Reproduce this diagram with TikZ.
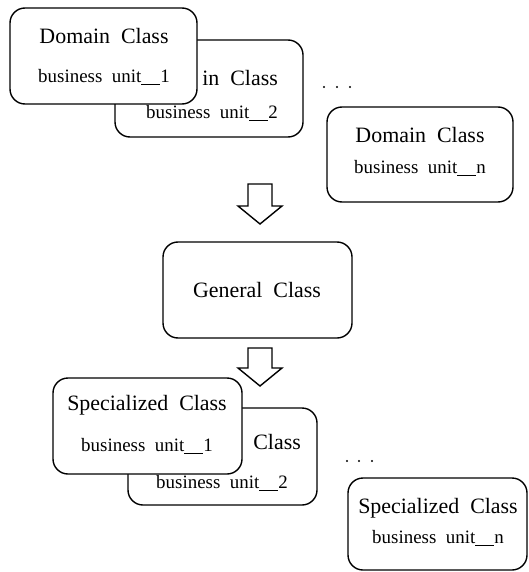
\documentclass[tikz,border=0pt]{standalone}
\usepackage{fontspec}
\setmainfont{Liberation Serif}
\begin{document}
\begin{tikzpicture}[x=1bp,y=-1bp,
  classbox/.style={draw,line width=1.4bp,rounded corners=15bp,fill=white},
  title/.style={font=\fontsize{22}{26}\selectfont,inner sep=0pt},
  unit/.style={font=\fontsize{19}{22}\selectfont,inner sep=0pt},
  blockarrow/.style={draw,line width=1.4bp,fill=white,line join=miter},
  dot/.style={circle,fill,inner sep=0pt,minimum size=2.4bp}]
\useasboundingbox (0,0) rectangle (529,572);
\newcommand{\uu}{\rule[-1.5bp]{19bp}{0.8bp}}

% domain classes, second one behind the first
\draw[classbox] (115,40) rectangle (303,137);
\node[title,anchor=east] (d2t) at (278,78) {in\ \ Class};
\node[unit]  (d2u) at (212,113) {business\ \ unit\uu 2};
\draw[classbox] (10,8) rectangle (197,104);
\node[title] (d1t) at (104,36) {Domain\ \ Class};
\node[unit]  (d1u) at (104,77) {business\ \ unit\uu 1};
\node[dot] (da) at (324,87) {};
\node[dot] (db) at (337,87) {};
\node[dot] (dc) at (350,87) {};
\draw[classbox] (327,107) rectangle (513,202);
\node[title] (dnt) at (420,135) {Domain\ \ Class};
\node[unit]  (dnu) at (420,168) {business\ \ unit\uu n};

% generalisation
\draw[blockarrow] (248,184) -- (272,184) -- (272,206) -- (282,206) -- (260,224)
  -- (238,206) -- (248,206) -- cycle;
\draw[classbox] (163,242) rectangle (352,338);
\node[title] (gen) at (257,290) {General\ \ Class};

% specialisation
\draw[blockarrow] (248,348) -- (272,348) -- (272,368) -- (282,368) -- (260,386)
  -- (238,368) -- (248,368) -- cycle;
\draw[classbox] (128,408) rectangle (317,505);
\node[title,anchor=east] (s2t) at (301,442) {Class};
\node[unit]  (s2u) at (222,483) {business\ \ unit\uu 2};
\draw[classbox] (53,378) rectangle (242,474);
\node[title] (s1t) at (147,405) {Specialized\ \ Class};
\node[unit]  (s1u) at (147,446) {business\ \ unit\uu 1};
\node[dot] (sa) at (347,461) {};
\node[dot] (sb) at (359,461) {};
\node[dot] (sc) at (372,461) {};
\draw[classbox] (348,478) rectangle (527,570);
\node[title] (snt) at (438,508) {Specialized\ \ Class};
\node[unit]  (snu) at (438,538) {business\ \ unit\uu n};
\end{tikzpicture}
\end{document}
